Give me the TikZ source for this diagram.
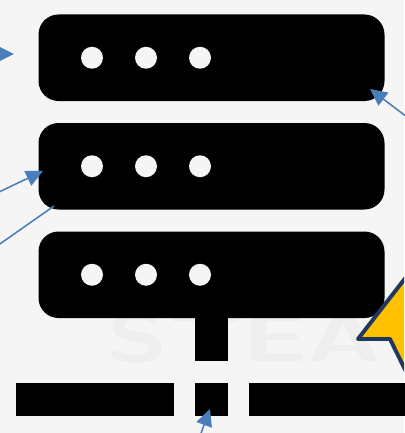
\documentclass[tikz,border=0pt]{standalone}
\usepackage{xcolor}
\usepackage{tikz}
\usetikzlibrary{arrows.meta, positioning, calc}
\definecolor{mybg}{RGB}{245,245,245}
\definecolor{mymark}{RGB}{238,238,238}
\definecolor{myblue}{RGB}{74,126,187}
\definecolor{mynavy}{RGB}{31,56,92}
\definecolor{myyellow}{RGB}{255,192,0}
\tikzset{
  rack/.style={rectangle, fill=black, minimum width=346\pxu, minimum height=86.5\pxu,
    rounded corners=20\pxu, inner sep=0pt},
  led/.style={circle, fill=mybg, minimum size=22\pxu, inner sep=0pt},
  segment/.style={rectangle, fill=black, minimum height=33\pxu, inner sep=0pt},
  pointer/.style={-{Triangle[length=12pt, width=11.5pt]}, line width=1.1pt, color=myblue}
}
\newcommand{\pxu}{*0.025cm}
\begin{document}
\begin{tikzpicture}[x=0.025cm, y=-0.025cm]
  % Page
  \fill[mybg] (0,0) rectangle (404,433);
  \useasboundingbox (0,0) rectangle (404,433);

  % Faint mark behind the racks
  \node[transform shape, xscale=1.5, color=mymark, inner sep=0pt,
    font=\fontsize{48}{48}\selectfont\sffamily\bfseries] (mark) at (244,338) {STEA};

  % Racks, with three lights each
  \foreach \name/\ypos in {one/57.75, two/166.25, three/274.75} {
    \node[rack] (rack\name) at (211.5,\ypos) {};
    \node[led] (led\name a) at (92,\ypos) {};
    \node[led] (led\name b) at (146,\ypos) {};
    \node[led] (led\name c) at (200,\ypos) {};
  }

  % Stem and network bar
  \node[segment, minimum width=33\pxu, minimum height=43\pxu] (stem) at (211.5,339.5) {};
  \node[segment, minimum width=158\pxu] (barleft) at (95,399.5) {};
  \node[segment, minimum width=33\pxu] (barmid) at (211.5,399.5) {};
  \node[segment, minimum width=156\pxu] (barright) at (327,399.5) {};

  % Free ends of the pointers
  \coordinate (startA) at (-16,54);
  \coordinate (endA) at (14,54);
  \coordinate (startB) at (-3,193);
  \coordinate (endB) at (43,171);
  \coordinate (startC) at (-3,246);
  \coordinate (endC) at (54,206);
  \coordinate (startD) at (407,117);
  \coordinate (endD) at (370,89);
  \coordinate (startE) at (200,436);
  \coordinate (endE) at (210,409);

  \draw[pointer] (startA) -- (endA);
  \draw[pointer] (startB) -- (endB);
  \draw[pointer, -] (startC) -- (endC);
  \draw[pointer] (startD) -- (endD);
  \draw[pointer] (startE) -- (endE);

  % Callout star, cut by the page edge
  \begin{scope}
    \clip (0,0) rectangle (404,433);
    \draw[fill=myyellow, draw=mynavy, line width=2.8pt, line join=round]
      (358,339) -- (410,272) -- (440,330) -- (420,400) -- (390,339) -- cycle;
  \end{scope}
\end{tikzpicture}
\end{document}
